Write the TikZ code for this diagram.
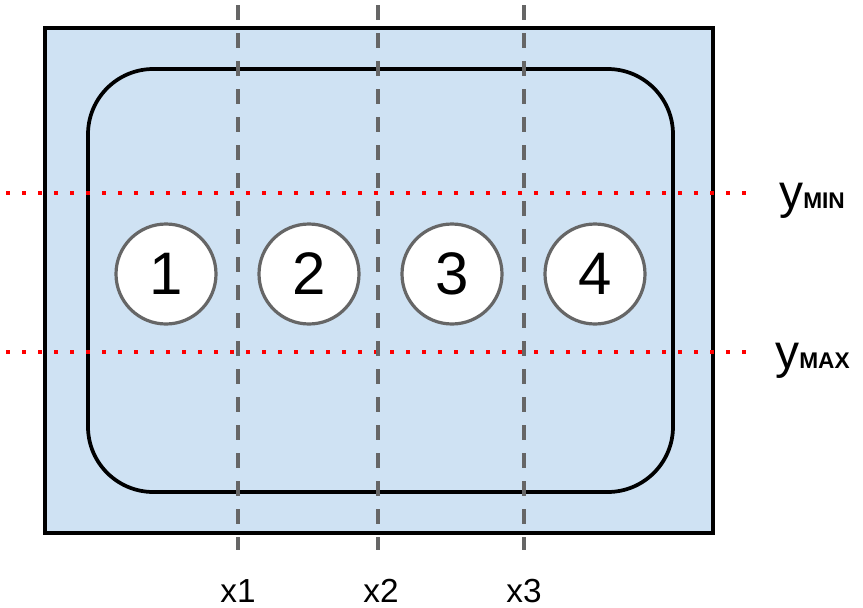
\documentclass[tikz,border=0pt]{standalone}
\usepackage{fontspec}
\setmainfont{Liberation Sans}
\definecolor{paleblue}{HTML}{CFE2F3}
\definecolor{guidegray}{HTML}{666666}
\tikzset{
  frame/.style={draw=black, line width=3pt, fill=paleblue},
  slot/.style={draw=black, line width=2.8pt, rounded corners=49pt},
  ball/.style={draw=guidegray, fill=white, circle, line width=2.4pt, minimum size=75pt, inner sep=0pt, font=\fontsize{45}{45}\selectfont},
  xguide/.style={draw=guidegray, line width=2.6pt, dash pattern=on 11pt off 10pt},
  yguide/.style={draw=red, line width=3pt, dash pattern=on 3pt off 9pt},
  xlabel/.style={anchor=base, inner sep=0pt, font=\fontsize{25}{25}\selectfont},
  ylabel/.style={anchor=base west, inner sep=0pt, font=\fontsize{36}{36}\selectfont}
}
\newcommand{\ysub}[1]{{\fontsize{17}{17}\selectfont\bfseries #1}}
\begin{document}
\begin{tikzpicture}[x=0.75pt, y=-0.75pt]
  \useasboundingbox (0,0) rectangle (863,607);
  % box and inner outline
  \draw[frame] (45,28) rectangle (713,533);
  \draw[slot] (88,69) rectangle (673,492);
  % horizontal limits
  \draw[yguide] (6,193) -- (750,193);
  \draw[yguide] (6,352) -- (750,352);
  \node[ylabel] (ymin) at (779,208) {y\ysub{MIN}};
  \node[ylabel] (ymax) at (775,368) {y\ysub{MAX}};
  % vertical cuts
  \coordinate (t1) at (238,5);
  \coordinate (b1) at (238,550);
  \coordinate (t2) at (378,5);
  \coordinate (b2) at (378,550);
  \coordinate (t3) at (524,5);
  \coordinate (b3) at (524,550);
  \draw[xguide] (t1) -- (b1);
  \draw[xguide] (t2) -- (b2);
  \draw[xguide] (t3) -- (b3);
  \node[xlabel] (x1) at (238,602) {x1};
  \node[xlabel] (x2) at (381,602) {x2};
  \node[xlabel] (x3) at (524,602) {x3};
  % objects
  \node[ball] (c1) at (166,274) {1};
  \node[ball] (c2) at (309,274) {2};
  \node[ball] (c3) at (452,274) {3};
  \node[ball] (c4) at (595,274) {4};
\end{tikzpicture}
\end{document}
